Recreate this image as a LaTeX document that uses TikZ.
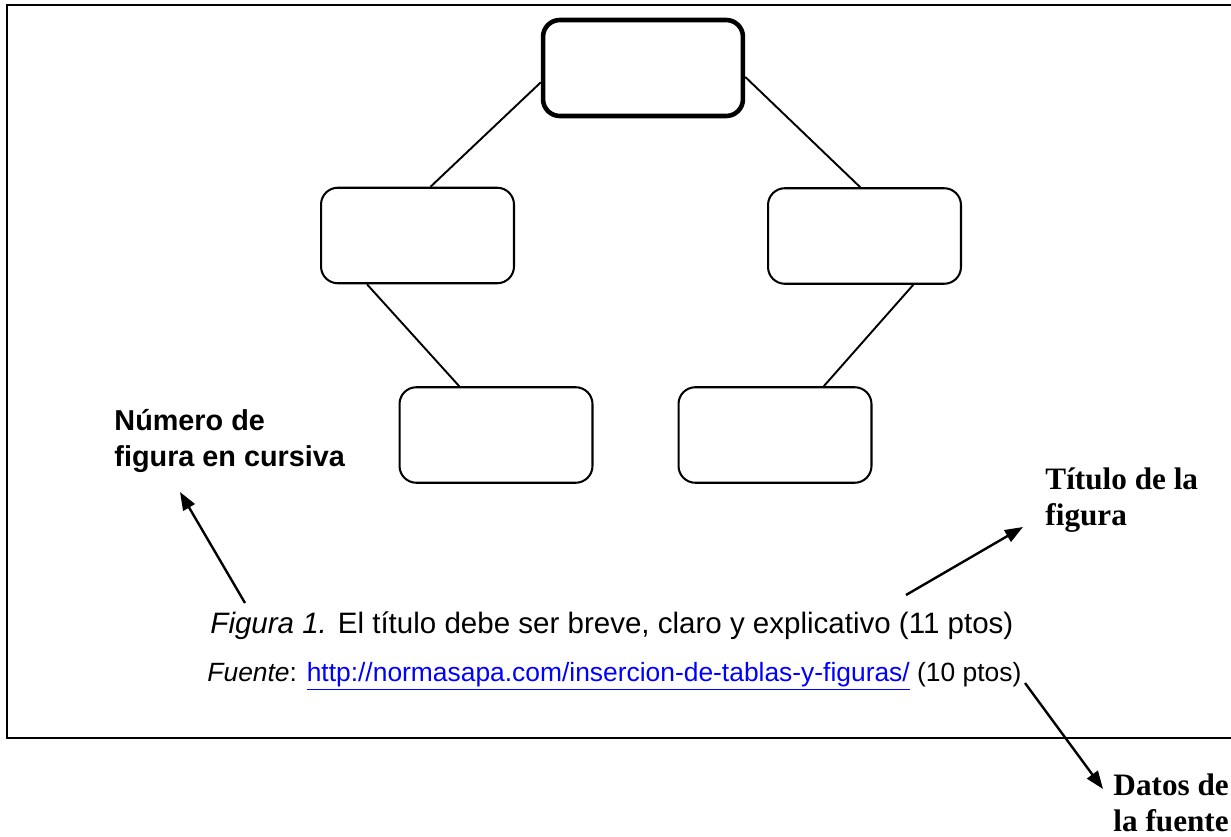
\documentclass[tikz,border=0pt]{standalone}
\usepackage{fontspec}
\setmainfont{Liberation Sans}
\newfontfamily\timesfont{Liberation Serif}
\usetikzlibrary{arrows.meta}
\definecolor{linkblue}{RGB}{0,0,255}

\begin{document}
\begin{tikzpicture}[
  x=0.41667pt, y=-0.41667pt,
  box/.style={draw, line width=0.85pt, rounded corners=7pt, inner sep=0pt,
    minimum width=80.4pt, minimum height=39.8pt},
  rootbox/.style={box, line width=1.9pt, minimum width=83.3pt, minimum height=40pt},
  link/.style={line width=0.8pt},
  pointer/.style={line width=1pt, -{Triangle[length=7.5pt,width=5.5pt]}},
  note/.style={inner sep=0pt, anchor=base west, align=left, font=\fontsize{12}{14.6}\selectfont\bfseries},
  serifnote/.style={note, font=\fontsize{13}{14.8}\selectfont\timesfont\bfseries},
  every node/.style={align=center}]

\useasboundingbox (0,0) rectangle (1231,837);

% Outer frame (its right side lies off the page)
\draw[line width=1.2pt] (1260,5) -- (7,5) -- (7,738) -- (1260,738);

% Boxes of the tree
\node[rootbox] (topBox) at (643,68) {};
\node[box] (leftBox) at (417.5,235.5) {};
\node[box] (rightBox) at (864.5,236) {};
\node[box] (leftLeaf) at (496,435) {};
\node[box] (rightLeaf) at (775,435) {};

\draw[link] (topBox.188) -- (leftBox.75);
\draw[link] (topBox.355) -- (rightBox.95);
\draw[link] (leftBox.224) -- (leftLeaf.127);
\draw[link] (rightBox.315) -- (rightLeaf.45);

% Caption lines
\node[inner sep=0pt, anchor=base west, font=\fontsize{12.3}{14}\selectfont] (caption) at (210,633)
  {\textit{Figura 1.} El título debe ser breve, claro y explicativo (11 ptos)};
\node[inner sep=0pt, anchor=base west, font=\fontsize{11}{13}\selectfont] (source) at (207,681)
  {\textit{Fuente}: \textcolor{linkblue}{\underline{http://normasapa.com/insercion-de-tablas-y-figuras/}} (10 ptos)};

% Notes outside the figure (anchored on their last line)
\node[note] (numberNote) at (114,466) {Número de\\figura en cursiva};
\node[serifnote] (titleNote) at (1045,525) {Título de la\\figura};
\node[serifnote] (sourceNote) at (1113,831) {Datos de\\la fuente};

% Pointers from the caption to the notes
\coordinate (numberTail) at (245,603);
\coordinate (numberTip) at (180,492);
\coordinate (titleTail) at (906,595);
\coordinate (titleTip) at (1023,527);
\coordinate (sourceTail) at (1025,683);
\coordinate (sourceTip) at (1103,789);
\draw[pointer] (numberTail) -- (numberTip);
\draw[pointer] (titleTail) -- (titleTip);
\draw[pointer] (sourceTail) -- (sourceTip);

\end{tikzpicture}
\end{document}
